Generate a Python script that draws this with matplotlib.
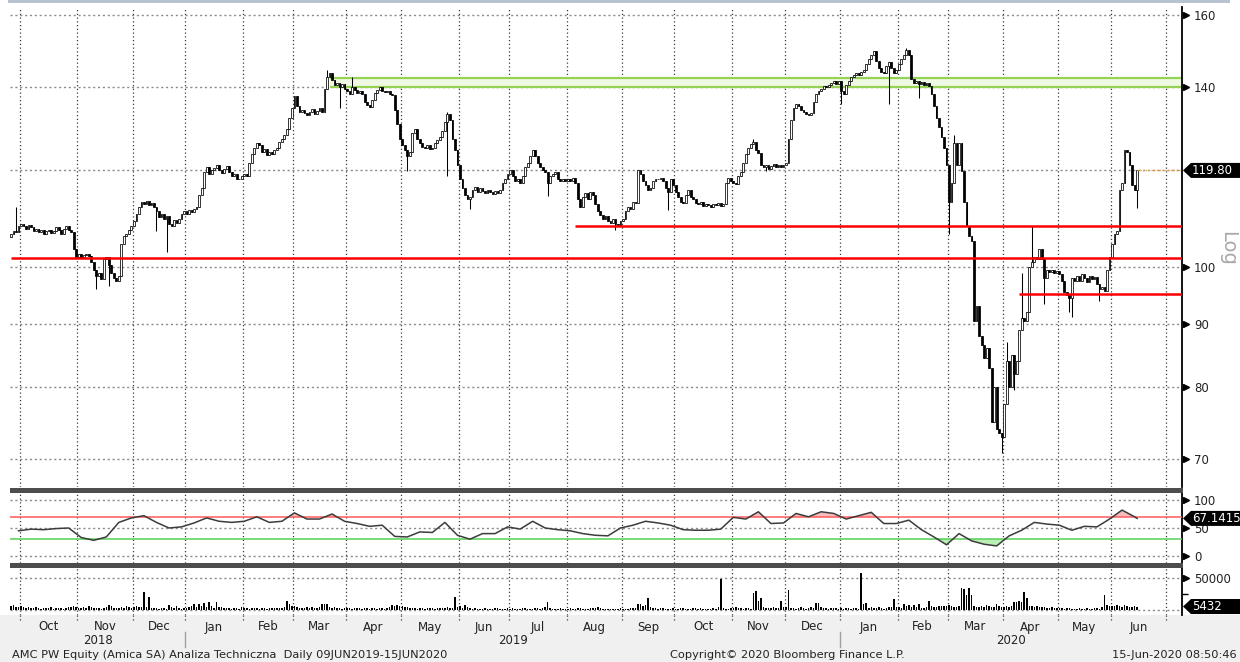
import numpy as np
import pandas as pd
import matplotlib
matplotlib.use('Agg')
import matplotlib.pyplot as plt
from matplotlib.patches import Rectangle, Polygon
from matplotlib.transforms import IdentityTransform, ScaledTranslation

plt.rcParams['font.family'] = ['DejaVu Sans']

# daily closes, one list per month (business days)
closes_by_month = {
    '2018-09': [106.5, 107.0, 106.8, 108.0],
    '2018-10': [108.5, 108.0, 107.5, 108.2, 107.8, 107.0, 107.5, 106.8, 107.2, 106.5,
                107.0, 107.3, 106.6, 107.0, 107.8, 107.2, 106.5, 107.4, 108.0, 107.2,
                106.8, 103.5, 102.0],
    '2018-11': [102.5, 102.0, 102.3, 102.6, 102.2, 101.0, 99.5, 98.5, 99.0, 97.8,
                101.5, 102.0, 100.5, 99.0, 98.0, 97.5, 98.5, 104.5, 106.0, 106.5,
                107.2, 108.0],
    '2018-12': [109.0, 110.5, 112.0, 113.0, 112.5, 113.2, 112.4, 112.8, 112.0, 111.0,
                109.8, 110.5, 109.5, 110.0, 108.5, 108.0, 109.2, 108.6, 109.5, 110.5,
                111.0],
    '2019-01': [110.5, 111.2, 110.8, 111.5, 112.0, 114.5, 116.0, 119.5, 120.5, 119.0,
                119.8, 120.4, 121.0, 120.0, 119.2, 120.2, 120.8, 119.5, 118.6, 119.0,
                118.0, 117.8, 118.5],
    '2019-02': [119.0, 118.5, 121.5, 123.5, 125.0, 126.0, 125.5, 124.0, 124.6, 123.2,
                124.0, 123.5, 124.5, 125.0, 126.2, 127.0, 128.0, 129.5, 132.0, 134.5],
    '2019-03': [137.5, 135.0, 133.5, 134.0, 133.2, 132.8, 133.5, 134.2, 133.0, 133.8,
                134.5, 133.6, 139.5, 142.5, 143.5, 141.8, 140.5, 141.0, 139.8, 140.6,
                139.5],
    '2019-04': [139.0, 138.2, 140.0, 139.2, 138.5, 139.0, 138.0, 136.0, 135.2, 134.8,
                136.5, 138.5, 139.2, 139.8, 139.0, 138.6, 139.0, 138.2, 137.8, 134.0,
                130.5, 127.0],
    '2019-05': [125.5, 124.5, 123.0, 124.0, 128.5, 129.5, 127.0, 126.0, 125.2, 124.8,
                125.5, 124.6, 125.0, 126.0, 126.8, 127.5, 129.0, 131.0, 133.0, 131.5,
                127.0, 124.5, 121.0],
    '2019-06': [118.0, 116.0, 114.5, 113.5, 114.0, 115.5, 116.2, 115.0, 116.0, 115.4,
                114.8, 115.5, 115.0, 114.6, 115.2, 114.8, 115.6, 117.0, 118.0, 119.0],
    '2019-07': [120.0, 118.5, 117.5, 118.0, 117.0, 118.5, 120.5, 121.5, 123.0, 124.5,
                123.0, 121.5, 120.5, 120.0, 119.5, 117.0, 118.5, 119.0, 119.5, 118.0,
                117.5, 118.0, 117.5],
    '2019-08': [118.0, 117.5, 118.2, 117.0, 113.5, 112.0, 114.0, 114.8, 113.5, 115.0,
                114.5, 112.5, 111.0, 110.2, 109.5, 110.0, 109.0, 108.6, 109.4, 108.5,
                108.0, 109.0],
    '2019-09': [109.5, 111.0, 112.0, 111.5, 113.0, 112.8, 120.0, 119.0, 117.5, 116.5,
                115.5, 116.0, 117.5, 118.0, 117.8, 118.2, 117.5, 116.0, 115.0, 118.0,
                116.5],
    '2019-10': [115.0, 114.0, 113.0, 112.8, 114.5, 115.5, 114.0, 113.5, 112.8, 112.5,
                113.0, 112.2, 112.6, 112.4, 112.0, 112.5, 112.3, 112.8, 112.2, 112.6,
                117.0, 118.2, 117.5],
    '2019-11': [117.0, 116.8, 118.5, 119.5, 121.5, 123.5, 125.0, 125.8, 126.2, 124.5,
                123.8, 121.0, 120.5, 121.0, 120.2, 120.8, 121.2, 120.5, 121.0, 120.6,
                121.0],
    '2019-12': [121.5, 127.0, 131.5, 134.5, 135.5, 135.0, 134.0, 133.5, 133.0, 132.8,
                133.2, 136.0, 138.0, 138.8, 139.5, 140.2, 139.8, 140.5, 141.0, 141.5,
                140.8, 141.5],
    '2020-01': [139.0, 138.0, 140.5, 141.5, 142.5, 143.0, 143.5, 143.2, 144.0, 144.5,
                146.0, 147.5, 148.5, 149.5, 147.0, 145.0, 144.0, 143.5, 145.5, 146.5,
                145.0, 143.5, 144.5],
    '2020-02': [146.0, 147.5, 148.5, 149.8, 148.5, 142.0, 141.0, 141.5, 140.8, 141.2,
                140.5, 141.0, 140.2, 138.0, 135.0, 132.0, 130.0, 127.5, 125.0, 121.0],
    '2020-03': [113.0, 117.0, 126.0, 121.0, 126.0, 119.7, 113.0, 108.0, 106.0, 105.0,
                90.5, 93.0, 88.0, 86.5, 84.5, 86.0, 83.0, 75.0, 80.0, 74.0,
                73.5, 73.0],
    '2020-04': [77.5, 84.0, 80.0, 85.0, 82.0, 84.0, 89.0, 91.0, 90.5, 92.0,
                100.0, 101.0, 102.0, 101.5, 103.5, 101.5, 98.0, 99.5, 99.2, 99.5,
                99.0, 99.3],
    '2020-05': [98.8, 97.5, 95.5, 95.0, 94.5, 98.0, 97.5, 98.5, 97.6, 98.8,
                98.0, 97.4, 98.5, 97.8, 98.2, 97.0, 96.0, 96.5, 95.8, 99.5,
                102.0],
    '2020-06': [104.5, 106.5, 107.0, 115.5, 117.0, 124.5, 124.0, 121.0, 116.5, 115.5,
                119.8],
}

volume_by_month = {
    '2018-09': [6000, 8000, 5000, 4000],
    '2018-10': [7000, 4000, 3000, 5000, 3500, 2500, 4000, 3000, 2000, 3500, 2500, 3000,
                4500, 2000, 3000, 2500, 3500, 2000, 3000, 4000, 5000, 6500, 4500],
    '2018-11': [3000, 2500, 5000, 3500, 6000, 4000, 3000, 2500, 3000, 2000, 3500,
                4500, 8000, 6500, 3000, 2500, 3000, 4000, 3500, 5500, 4000, 3500],
    '2018-12': [4000, 6000, 5000, 4000, 27500, 5000, 21000, 3000, 2500, 3500, 2000,
                3000, 2500, 2000, 8000, 5000, 3000, 6000, 2500, 2000, 3000],
    '2019-01': [3000, 4000, 7000, 9000, 5000, 10000, 6000, 11000, 4000, 12000, 7000,
                3000, 12000, 5000, 4000, 3000, 2500, 3000, 2000, 2500, 3000, 2000, 5000],
    '2019-02': [2500, 3000, 2000, 3500, 3000, 2500, 2000, 3000, 2500, 2000, 3000,
                2500, 3500, 3000, 2500, 3000, 4000, 14000, 10000, 7000],
    '2019-03': [6000, 5000, 3000, 2500, 3000, 4000, 3000, 5000, 2500, 3000, 4000,
                10000, 10000, 9000, 5000, 3000, 4000, 2500, 3000, 2000, 3000],
    '2019-04': [2500, 3000, 2000, 3500, 2500, 3000, 2000, 2500, 3000, 2000, 2500,
                3000, 2000, 3000, 2500, 2000, 3500, 4000, 8000, 7000, 8000, 6000],
    '2019-05': [7000, 5000, 4000, 3000, 2500, 3000, 2000, 2500, 3000, 2000, 2500, 3000,
                2500, 2000, 3000, 3500, 2500, 3000, 4000, 3500, 3000, 21000, 5000],
    '2019-06': [6000, 3000, 8000, 4000, 3000, 2000, 2500, 2000, 1500, 2000, 2500,
                2000, 1500, 2000, 3000, 2500, 2000, 1500, 2000, 2500],
    '2019-07': [2000, 2500, 2000, 1500, 2000, 3000, 2500, 2000, 1500, 2000, 2500, 3000,
                2000, 2500, 4000, 13000, 3000, 2000, 1500, 2000, 2500, 2000, 1500],
    '2019-08': [2000, 2500, 1500, 2000, 3000, 2500, 2000, 1500, 2000, 2500, 3000,
                2500, 4000, 3000, 2000, 1500, 1000, 1500, 1000, 1500, 2000, 2500],
    '2019-09': [2000, 1500, 2000, 2500, 3000, 3500, 9500, 9500, 7000, 8000, 19000,
                4000, 3000, 2500, 2000, 3000, 2500, 2000, 1500, 2000, 2500],
    '2019-10': [2000, 1500, 2500, 3000, 2000, 1500, 2000, 2500, 3000, 2000, 2500, 1500,
                2000, 1500, 2000, 2500, 1500, 5000, 48000, 3000, 2000, 1500, 3000],
    '2019-11': [2500, 5000, 3000, 2500, 2000, 2500, 3000, 2000, 26000, 29600, 14500,
                18000, 4000, 3000, 2500, 3000, 4000, 2500, 3000, 14000, 5000],
    '2019-12': [4000, 31000, 3000, 2500, 2000, 3000, 4000, 2500, 2000, 3000, 4000,
                3500, 11500, 11500, 4000, 3000, 2500, 2000, 3000, 2500, 3000, 2000],
    '2020-01': [2500, 2000, 2500, 3000, 2000, 2500, 3000, 2000, 58000, 9000, 10500, 3000,
                4000, 2500, 3000, 4000, 2500, 2000, 3000, 5000, 4000, 17700, 5000],
    '2020-02': [4000, 3000, 9000, 6000, 8000, 5000, 7500, 4000, 9500, 3000, 2500,
                4000, 14000, 5500, 5000, 4000, 6000, 7000, 6500, 7000],
    '2020-03': [7500, 6000, 5000, 4000, 6000, 33800, 33000, 23000, 33800, 23000, 6000,
                5000, 4000, 6000, 5000, 8000, 7000, 5000, 4000, 10000, 6000, 5000],
    '2020-04': [4500, 5500, 4000, 6000, 13000, 13000, 14000, 13000, 27500, 18000, 7000,
                5500, 5000, 6500, 4500, 5000, 4000, 3500, 3000, 4000, 3000, 2500],
    '2020-05': [2500, 3000, 2000, 2500, 3500, 2000, 1500, 2000, 2500, 1500, 2000,
                3000, 2000, 1500, 2500, 3000, 2000, 4000, 23400, 8000, 6000],
    '2020-06': [7000, 5500, 8000, 6000, 5000, 7500, 6500, 5000, 4500, 6000, 5432],
}

first_open = 105.8

# days with shadows reaching beyond the body: date -> (high, low)
wicks = {
    '2018-09-27': (112.0, None), '2018-11-12': (None, 96.0), '2018-11-19': (None, 96.6),
    '2018-12-14': (None, 107.0), '2018-12-20': (None, 103.0), '2019-03-20': (144.5, None),
    '2019-03-27': (None, 134.5), '2019-04-03': (142.5, None), '2019-05-03': (None, 119.7),
    '2019-05-27': (133.5, 118.5), '2019-06-07': (None, 111.6), '2019-07-22': (None, 114.3),
    '2019-08-28': (None, 107.3), '2019-09-26': (None, 111.2), '2019-10-29': (None, 114.5),
    '2019-11-13': (127.0, None), '2019-11-20': (None, 119.7), '2020-01-01': (None, 135.6),
    '2020-01-28': (None, 135.6), '2020-02-06': (150.5, None), '2020-02-13': (None, 137.0),
    '2020-03-02': (None, 106.5), '2020-03-04': (128.0, None), '2020-03-31': (None, 70.8),
    '2020-04-02': (87.0, None), '2020-04-07': (None, 79.6), '2020-04-10': (99.0, None),
    '2020-04-16': (108.0, None), '2020-04-23': (None, 93.5), '2020-05-07': (None, 92.0),
    '2020-05-08': (None, 91.2), '2020-05-25': (None, 94.0), '2020-06-15': (None, 111.8),
}

# RSI read on Fridays, last value on 15 Jun 2020
rsi_values = [45, 48, 47, 49, 50, 33, 28, 34, 60, 68,
              72, 60, 50, 52, 59, 68, 62, 60, 62, 70,
              60, 62, 77, 66, 66, 75, 62, 58, 53, 55,
              35, 34, 43, 42, 60, 37, 30, 40, 40, 52,
              48, 62, 50, 47, 45, 40, 37, 36, 50, 55,
              62, 59, 55, 47, 46, 46, 48, 69, 66, 79,
              58, 59, 76, 70, 79, 76, 66, 72, 78, 58,
              58, 64, 47, 34, 20, 40, 27, 21, 18, 36,
              46, 60, 57, 55, 46, 53, 52, 66, 82, 70,
              67.1415]

support_lines = [('2018-09-25', 101.7), ('2019-08-06', 108.1), ('2020-04-09', 95.1)]
band_start, band_low, band_high = '2019-03-21', 140.0, 142.3
last_price = 119.80
last_rsi = 67.1415
last_volume = 5432

# ---- build the daily series ----
days = pd.bdate_range('2018-09-25', '2020-06-15')
keys = days.strftime('%Y-%m')
closes = []
volumes = []
for key in closes_by_month:
    n = int((keys == key).sum())
    if len(closes_by_month[key]) != n or len(volume_by_month[key]) != n:
        raise ValueError('%s needs %d values (%d, %d)' % (key, n, len(closes_by_month[key]),
                                                           len(volume_by_month[key])))
    closes += closes_by_month[key]
    volumes += volume_by_month[key]
closes = np.array(closes)
volumes = np.array(volumes)
opens = np.concatenate([[first_open], closes[:-1]])
highs = np.maximum(opens, closes)
lows = np.minimum(opens, closes)
pos = {d.strftime('%Y-%m-%d'): i for i, d in enumerate(days)}
for d, (h, l) in wicks.items():
    i = pos[d]
    if h is not None:
        highs[i] = max(highs[i], h)
    if l is not None:
        lows[i] = min(lows[i], l)
x = np.arange(len(days))


def day_pos(d):
    # position of the first business day on or after d
    d = pd.Timestamp(d)
    return len(pd.bdate_range('2018-09-25', d - pd.Timedelta(days=1)))


rsi_dates = pd.date_range('2018-09-28', '2020-06-12', freq='W-FRI')
rsi_x = np.array([day_pos(d) for d in rsi_dates] + [pos['2020-06-15']])
rsi_y = np.array(rsi_values, dtype=float)

month_starts = pd.date_range('2018-10-01', '2020-07-01', freq='MS')
bounds = np.array([day_pos(d) - 0.5 for d in month_starts])

# ---- figure ----
W, H = 1240, 662
fig = plt.figure(figsize=(W / 100, H / 100), dpi=100)
fig.patch.set_facecolor('white')


def rect(l, t, r, b):
    return [l / W, 1 - b / H, (r - l) / W, (b - t) / H]


XL = (-0.4, 466.9)
ax_p = fig.add_axes(rect(10, 7, 1182, 487))
ax_r = fig.add_axes(rect(10, 493, 1182, 563))
ax_v = fig.add_axes(rect(10, 568, 1182, 615))
ax_f = fig.add_axes(rect(10, 615, 1182, 662))

# footer background and panel separators
fig.add_artist(Rectangle((0, 0), 1, 47 / H, transform=fig.transFigure,
                         facecolor='#f0f0f0', edgecolor='none', zorder=0))
fig.add_artist(Rectangle((8 / W, 1 - 3 / H), 1222 / W, 3 / H, transform=fig.transFigure,
                         facecolor='#b8c3d2', edgecolor='none'))
for top, bot in [(488, 492.5), (563, 567.5)]:
    fig.add_artist(Rectangle((10 / W, 1 - bot / H), 1173 / W, (bot - top) / H,
                             transform=fig.transFigure, facecolor='#4d4d4d',
                             edgecolor='none', zorder=5))

hgrid = dict(color='#8a8a8a', linestyle=(0, (1.5, 2)), linewidth=1.0, zorder=1)
vgrid = dict(color='#3a3a3a', linestyle=(0, (1, 2)), linewidth=0.9, zorder=1)

for ax in (ax_p, ax_r, ax_v, ax_f):
    ax.set_xlim(XL)
    for s in ('left', 'top', 'bottom'):
        ax.spines[s].set_visible(False)
    ax.spines['right'].set_linewidth(1.3)
    ax.spines['right'].set_color('black')
    ax.tick_params(axis='x', bottom=False, labelbottom=False)
    ax.yaxis.tick_right()
    ax.tick_params(axis='y', which='both', length=0, pad=8.5, labelsize=8.5,
                   labelcolor='#222222')
ax_f.set_facecolor('none')
ax_f.spines['right'].set_visible(False)
ax_f.set_ylim(0, 1)
ax_f.set_yticks([])

for ax in (ax_p, ax_r, ax_v):
    for b in bounds:
        ax.axvline(b, **vgrid)

# ---- price panel ----
ax_p.set_yscale('log')
ax_p.set_ylim(66.45, 162.4)
ax_p.yaxis.set_minor_locator(matplotlib.ticker.NullLocator())
price_ticks = [70, 80, 90, 100, 140, 160]
ax_p.set_yticks(price_ticks, [str(t) for t in price_ticks])
ax_p.hlines([70, 80, 90, 100, 120, 140, 160], XL[0], XL[1], **hgrid)

ax_p.fill_between([pos[band_start], XL[1]], band_low, band_high, color='#eef8e2',
                  linewidth=0, zorder=2)
ax_p.hlines([band_low, band_high], pos[band_start], XL[1], color='#95d255', linewidth=1.6,
            zorder=2.5)

up = closes >= opens
ax_p.vlines(x, lows, highs, color='black', linewidth=0.75, zorder=3)
ax_p.bar(x, np.abs(closes - opens), bottom=np.minimum(opens, closes), width=0.72,
         color=np.where(up, 'white', 'black'), edgecolor='black', linewidth=0.55, zorder=4)

for d, level in support_lines:
    ax_p.hlines(level, pos[d], XL[1], color='#ff0000', linewidth=1.8, zorder=6)
ax_p.hlines(last_price, x[-1], XL[1], color='#f0a040', linestyle=(0, (1, 1)),
            linewidth=1.0, zorder=6)

# ---- RSI panel ----
ax_r.set_ylim(-12.5, 112.5)
ax_r.set_yticks([0, 50, 100], ['0', '50', '100'])
ax_r.hlines([0, 50, 100], XL[0], XL[1], **hgrid)
ax_r.fill_between(rsi_x, rsi_y, 70, where=rsi_y >= 70, interpolate=True,
                  color='#f7bcbc', linewidth=0, zorder=2)
ax_r.fill_between(rsi_x, rsi_y, 30, where=rsi_y <= 30, interpolate=True,
                  color='#b9efb3', linewidth=0, zorder=2)
ax_r.axhline(70, color='#ff5a5a', linewidth=1.1, zorder=3)
ax_r.axhline(30, color='#55d055', linewidth=1.1, zorder=3)
ax_r.plot(rsi_x, rsi_y, color='#3c3c3c', linewidth=1.1, zorder=4)

# ---- volume panel ----
ax_v.set_ylim(-7812, 65625)
ax_v.set_yticks([50000], ['50000'])
ax_v.hlines([0, 50000], XL[0], XL[1], **hgrid)
ax_v.bar(x, volumes, width=0.6, color='black', linewidth=0, zorder=3)

# tick arrows on the right axis
for ax, ticks in ((ax_p, price_ticks), (ax_r, [0, 50, 100]), (ax_v, [50000])):
    tr = ax.get_yaxis_transform() + ScaledTranslation(3.5 / 100, 0, fig.dpi_scale_trans)
    ax.plot([1.0] * len(ticks), ticks, linestyle='none', marker='>', markersize=5,
            color='black', transform=tr, clip_on=False, zorder=7)
tr = ax_v.get_yaxis_transform() + ScaledTranslation(2.5 / 100, 0, fig.dpi_scale_trans)
ax_v.plot([1.0], [25000], linestyle='none', marker='_', markersize=5, color='black',
          transform=tr, clip_on=False)

# ---- bottom axis labels ----
names = ['Oct', 'Nov', 'Dec', 'Jan', 'Feb', 'Mar', 'Apr', 'May', 'Jun', 'Jul', 'Aug',
         'Sep', 'Oct', 'Nov', 'Dec', 'Jan', 'Feb', 'Mar', 'Apr', 'May', 'Jun']
for i, name in enumerate(names):
    ax_f.text((bounds[i] + bounds[i + 1]) / 2, 1 - 12 / 47, name, ha='center',
              va='center', fontsize=8.5, color='#222222')
for b in bounds:
    ax_f.plot([b, b], [1, 1 - 7 / 47], **vgrid)
jan_bounds = [bounds[3], bounds[15]]
for b in jan_bounds:
    ax_f.plot([b, b], [1 - 17 / 47, 1 - 32 / 47], color='#a0a0a0', linewidth=1.0)
year_spans = [('2018', XL[0], jan_bounds[0]), ('2019', jan_bounds[0], jan_bounds[1]),
              ('2020', jan_bounds[1], XL[1])]
for label, a, b in year_spans:
    ax_f.text((a + b) / 2, 1 - 25 / 47, label, ha='center', va='center', fontsize=8.5,
              color='#222222')

fy = 1 - 655 / H
fig.text(12 / W, fy, 'AMC PW Equity (Amica SA) Analiza Techniczna  Daily 09JUN2019-15JUN2020',
         va='center', fontsize=8.2, color='#222222')
fig.text(787 / W, fy, 'Copyright\u00a9 2020 Bloomberg Finance L.P.', ha='center',
         va='center', fontsize=8.2, color='#222222')
fig.text(1237 / W, fy, '15-Jun-2020 08:50:46', ha='right', va='center', fontsize=8.2,
         color='#222222')

fig.text(1228 / W, 1 - 248 / H, 'Log', rotation=-90, ha='center', va='center',
         fontsize=14, color='#a8a8a8')

# ---- last value boxes ----
for ax, val, label in ((ax_p, last_price, '%.2f' % last_price),
                       (ax_r, last_rsi, '%.4f' % last_rsi),
                       (ax_v, last_volume, str(last_volume))):
    yd = ax.transData.transform((0, val))[1]
    pts = [(1183, yd), (1191, yd + 7.5), (1240, yd + 7.5), (1240, yd - 7.5), (1191, yd - 7.5)]
    fig.add_artist(Polygon(pts, closed=True, transform=IdentityTransform(),
                           facecolor='black', edgecolor='none', zorder=10))
    fig.text(1192 / W, yd / H, label, ha='left', va='center', fontsize=8.5,
             color='white', zorder=11)

fig.savefig('out.png', dpi=100, facecolor='white')
